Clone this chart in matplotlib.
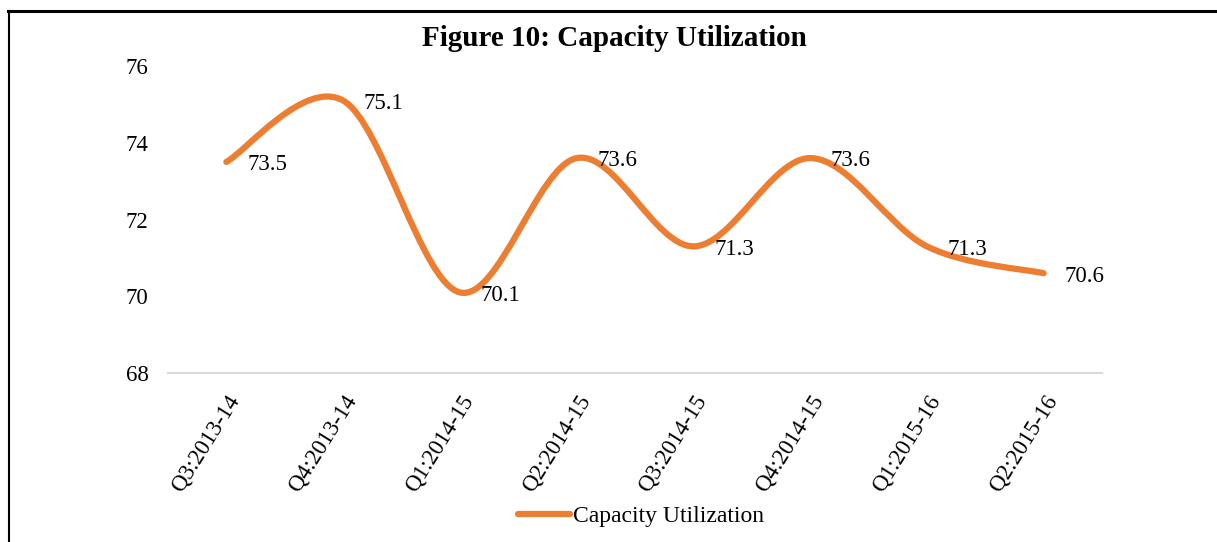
import matplotlib
matplotlib.use("Agg")
import matplotlib.pyplot as plt
from matplotlib.path import Path
from matplotlib.patches import PathPatch
from matplotlib.lines import Line2D
import numpy as np

quarters = ["Q3:2013-14", "Q4:2013-14", "Q1:2014-15", "Q2:2014-15",
            "Q3:2014-15", "Q4:2014-15", "Q1:2015-16", "Q2:2015-16"]
utilization = [73.5, 75.1, 70.1, 73.6, 71.3, 73.6, 71.3, 70.6]

orange = "#ED7D31"
plt.rcParams["font.family"] = ["Liberation Serif", "DejaVu Serif"]

W, H = 1217, 542
fig = plt.figure(figsize=(W / 100, H / 100), dpi=100)
ax = fig.add_axes([168 / W, 1 - 373 / H, (1102 - 168) / W, (373 - 66) / H])

x = np.arange(len(quarters))
y = np.array(utilization, dtype=float)

# smoothed line like Excel: cubic bezier segments through the points
verts = [(x[0], y[0])]
codes = [Path.MOVETO]
n = len(x)
for i in range(n - 1):
    p0 = np.array([x[max(i - 1, 0)], y[max(i - 1, 0)]])
    p1 = np.array([x[i], y[i]])
    p2 = np.array([x[i + 1], y[i + 1]])
    p3 = np.array([x[min(i + 2, n - 1)], y[min(i + 2, n - 1)]])
    c1 = p1 + (p2 - p0) / 6
    c2 = p2 - (p3 - p1) / 6
    verts += [tuple(c1), tuple(c2), tuple(p2)]
    codes += [Path.CURVE4] * 3
patch = PathPatch(Path(verts, codes), facecolor="none", edgecolor=orange,
                  lw=4.5, capstyle="round", joinstyle="round")
ax.add_patch(patch)

for xi, yi in zip(x, y):
    ax.annotate(f"{yi:.1f}", (xi, yi), xytext=(15, -2), textcoords="offset points",
                ha="left", va="center", fontsize=16.5)

ax.set_xlim(-0.5, n - 0.5)
ax.set_ylim(68, 76)
ax.set_yticks([68, 70, 72, 74, 76])
ax.set_xticks(x)
ax.set_xticklabels(quarters, rotation=58, ha="right", rotation_mode="anchor",
                   fontsize=16.5)
ax.tick_params(axis="x", length=0, pad=13)
ax.tick_params(axis="y", length=0, pad=14, labelsize=16.5)
for s in ["top", "right", "left"]:
    ax.spines[s].set_visible(False)
ax.spines["bottom"].set_color("#D9D9D9")
ax.spines["bottom"].set_linewidth(1.5)

fig.text(614 / W, 1 - 39 / H, "Figure 10: Capacity Utilization", ha="center",
         va="center", fontsize=21, fontweight="bold")

handle = Line2D([], [], color=orange, lw=4.5, solid_capstyle="round")
fig.legend([handle], ["Capacity Utilization"], loc="center",
           bbox_to_anchor=(641 / W, 1 - 516 / H), frameon=False, fontsize=17,
           handlelength=2.2, handletextpad=0.1)

fig.add_artist(Line2D([8 / W, 1], [1 - 10.5 / H, 1 - 10.5 / H], color="black", lw=2.2))
fig.add_artist(Line2D([8.5 / W, 8.5 / W], [0, 1 - 10.5 / H], color="black", lw=1.5))

fig.savefig("out.png", dpi=100)
